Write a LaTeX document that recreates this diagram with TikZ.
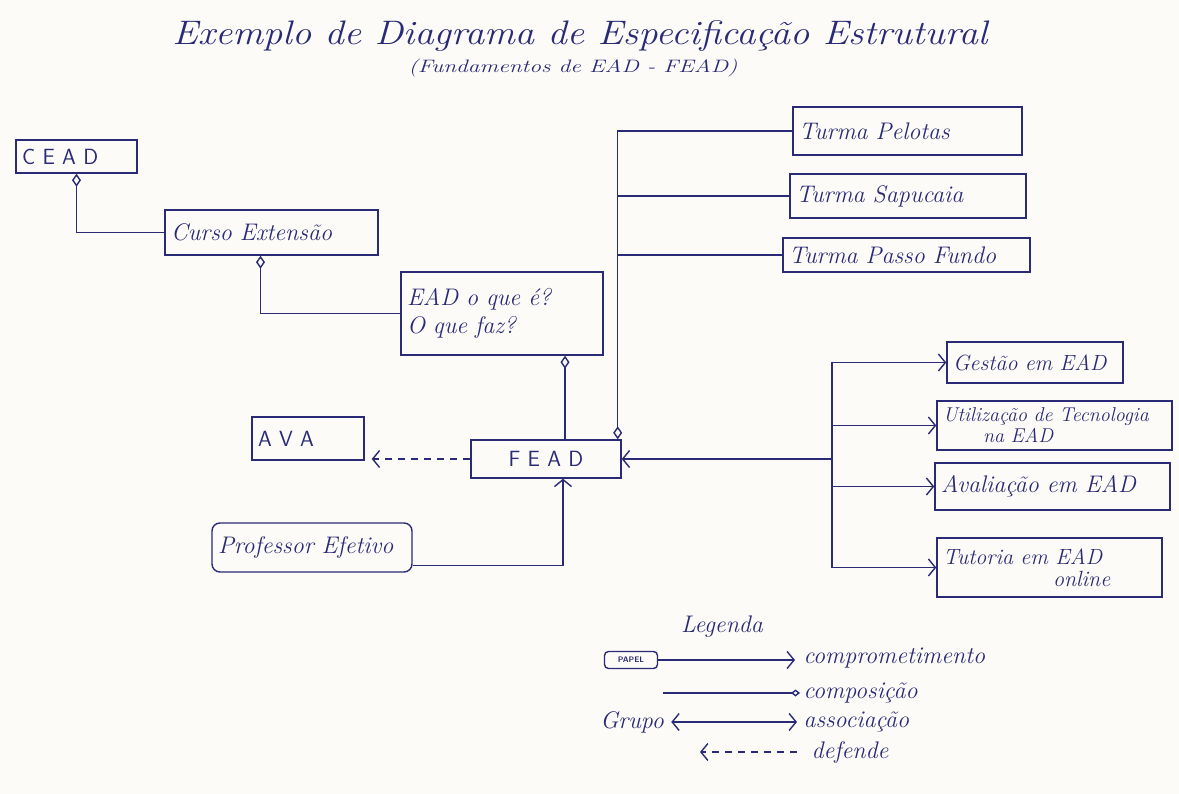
\documentclass[tikz,border=0pt]{standalone}
\usepackage{fontspec}
\usetikzlibrary{arrows.meta,calc}
\definecolor{ink}{RGB}{42,42,118}
\definecolor{paper}{RGB}{252,251,247}
\begin{document}
\begin{tikzpicture}[x=1pt,y=-1pt,
  every node/.style={text=ink,font=\itshape\fontsize{24}{28}\selectfont},
  ebox/.style 2 args={draw=ink,line width=1.4pt,inner xsep=6pt,inner ysep=2pt,
    text width=#1,minimum height=#2,align=left},
  caps/.style={font=\sffamily\fontsize{22}{26}\selectfont},
  wire/.style={draw=ink,line width=1.4pt},
  assoc/.style={wire,-{Straight Barb[length=7pt,width=17pt]}},
  comp/.style={wire,-{Diamond[open,length=13pt,width=9pt]}},
  dep/.style={wire,dash pattern=on 7pt off 6pt,-{Straight Barb[length=7pt,width=17pt]}}]

% paper
\fill[paper] (0,0) rectangle (1179,794);
\useasboundingbox (0,0) rectangle (1179,794);

% heading
\node[font=\itshape\fontsize{34}{38}\selectfont] (title) at (580,36)
  {\scalebox{1.13}[1]{Exemplo de Diagrama de Especificação Estrutural}};
\node[font=\itshape\fontsize{18}{22}\selectfont] (sub) at (573,68)
  {\scalebox{1.3}[1]{(Fundamentos de EAD - FEAD)}};

% left chain
\node[ebox={109pt}{33pt},caps] (cead) at (76.5,156.5) {C E A D};
\node[ebox={201pt}{45pt}] (ce) at (271.5,232.5) {Curso Extensão};
\node[ebox={190pt}{83pt}] (ead) at (502,313.5) {EAD o que é?\\O que faz?};
\node[ebox={138pt}{38pt},caps,align=center] (fead) at (546,459) {F E A D};
\node[ebox={100pt}{43pt},caps] (ava) at (308,438.5) {A V A};
\node[ebox={188pt}{49pt},rounded corners=8pt] (prof) at (312,547.5) {Professor Efetivo};

% classes
\node[ebox={217pt}{48pt}] (tp) at (907.5,131) {Turma Pelotas};
\node[ebox={224pt}{44pt}] (ts) at (908,196) {Turma Sapucaia};
\node[ebox={235pt}{34pt}] (tpf) at (906.5,255) {Turma Passo Fundo};

% modules
\node[ebox={164pt}{41pt},font=\itshape\fontsize{22}{26}\selectfont] (ge) at (1035,362.5) {Gestão em EAD};
\node[ebox={223pt}{49pt},font=\itshape\fontsize{20}{21}\selectfont] (ut) at (1054.5,425.5)
  {Utilização de Tecnologia\\\hspace*{40pt}na EAD};
\node[ebox={223pt}{47pt}] (av) at (1052.5,486.5) {Avaliação em EAD};
\node[ebox={213pt}{59pt},font=\itshape\fontsize{22}{22}\selectfont] (tu) at (1049.5,567.5)
  {Tutoria em EAD\\\hspace*{110pt}online};

% composition links
\draw[comp] (ce.west) -| (cead.south);
\draw[comp] (ead.west) -| ([xshift=-11pt]ce.south);
\draw[comp] ([xshift=19pt]fead.north) -- ([xshift=19pt]fead.north |- ead.south);
\coordinate (trk) at (617,0);
\draw[comp] (tp.west) -| ([xshift=-4pt]fead.north east);
\draw[wire] (ts.west) -- (ts.west -| trk);
\draw[wire] (tpf.west) -- (tpf.west -| trk);

% modules bus
\coordinate (bus) at (832,0);
\draw[wire] (bus |- ge.west) -- (bus |- tu.west);
\draw[assoc] (bus |- ge.west) -- (ge.west);
\draw[assoc] (bus |- ut.west) -- (ut.west);
\draw[assoc] (bus |- av.west) -- (av.west);
\draw[assoc] (bus |- tu.west) -- (tu.west);
\draw[assoc] (bus |- fead.east) -- (fead.east);

% role and dependency
\draw[assoc] ([yshift=-18pt]prof.east) -| ([xshift=17pt]fead.south);
\draw[dep,shorten >=7pt] (fead.west) -- (fead.west -| ava.east);

% legend
\node (leg) at (722,627) {Legenda};
\node[draw=ink,line width=1.4pt,rounded corners=4pt,inner sep=2pt,
  font=\sffamily\bfseries\fontsize{8}{9}\selectfont,minimum width=53pt,minimum height=17pt] (papel) at (631,660) {PAPEL};
\coordinate (l1) at (795,660);
\draw[assoc] (papel.east) -- (l1);
\node[anchor=west] (t1) at (800,658) {comprometimento};
\coordinate (l2a) at (663,693);
\coordinate (l2b) at (800,693);
\draw[wire,-{Diamond[open,length=9pt,width=7pt]}] (l2a) -- (l2b);
\node[anchor=west] (t2) at (800,693) {composição};
\node (grupo) at (632,722) {Grupo};
\coordinate (l3) at (797,722);
\draw[wire,{Straight Barb[length=7pt,width=17pt]}-{Straight Barb[length=7pt,width=17pt]}] ([xshift=4pt]grupo.east) -- (grupo.east -| l3);
\node[anchor=west] (t3) at (800,722) {associação};
\coordinate (l4a) at (797,752);
\coordinate (l4b) at (700,752);
\draw[dep] (l4a) -- (l4b);
\node[anchor=west] (t4) at (808,752) {defende};
\end{tikzpicture}
\end{document}
